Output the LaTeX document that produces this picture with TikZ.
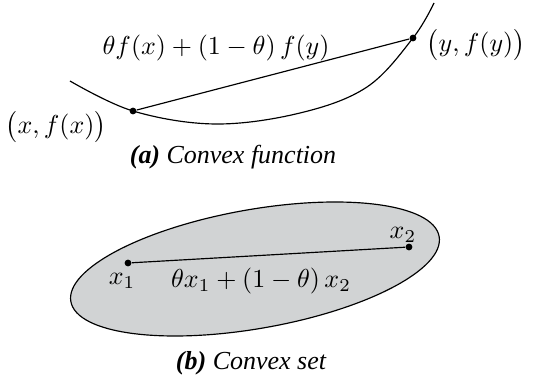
\documentclass[tikz,border=0pt]{standalone}
\usepackage{fontspec}
\newfontfamily\capfont{Liberation Serif}[ItalicFont={Liberation Serif Italic},BoldItalicFont={Liberation Serif Bold Italic}]
\begin{document}
\begin{tikzpicture}[x=0.385pt,y=-0.385pt,
  thinline/.style={line width=0.45pt},
  dotpt/.style={circle,fill=black,inner sep=0pt,minimum size=2.6pt},
  lbl/.style={inner sep=0pt},
  captext/.style={inner sep=0pt,font=\capfont\itshape}]
\useasboundingbox (0,0) rectangle (536,377);
% (a) convex function
\draw[thinline] plot[smooth,tension=0.6] coordinates {(70,81) (133,111) (215,124) (300,113) (367,87) (413,38) (434,3)};
\node[dotpt] (A) at (133,111) {};
\node[dotpt] (B) at (413,38) {};
\draw[thinline] (A) -- (B);
\node[lbl] (fa) at (216,48) {$\theta f(x) + (1-\theta)\, f(y)$};
\node[lbl] (pb) at (476,45) {$\bigl(y,f(y)\bigr)$};
\node[lbl] (pa) at (56,127) {$\bigl(x,f(x)\bigr)$};
\node[captext] (ca) at (233,157) {\textbf{(a)} Convex function};
% (b) convex set
\draw[thinline,fill={rgb,255:red,209;green,211;blue,212}] (255,269) ellipse[x radius=187,y radius=59.5,rotate=10];
\node[dotpt] (X1) at (128,263) {};
\node[dotpt] (X2) at (409,247) {};
\draw[thinline] (X1) -- (X2);
\node[lbl] (l1) at (122,281) {$x_1$};
\node[lbl] (l2) at (403,235) {$x_2$};
\node[lbl] (fb) at (261,281) {$\theta x_1 + (1-\theta)\, x_2$};
\node[captext] (cb) at (251,363) {\textbf{(b)} Convex set};
\end{tikzpicture}
\end{document}
